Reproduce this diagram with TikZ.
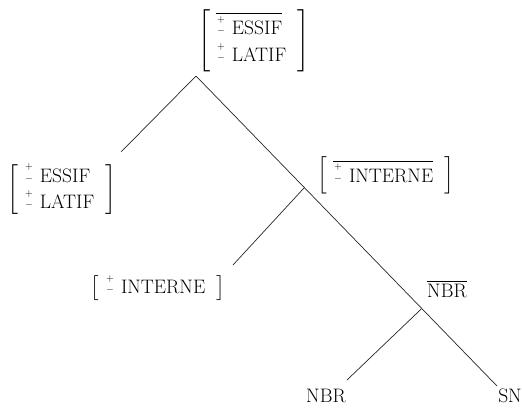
\documentclass[tikz,border=0pt]{standalone}
\usepackage{amsmath}
\usetikzlibrary{calc}
\newcommand{\pmst}{\raisebox{0.7ex}{$\genfrac{}{}{0pt}{2}{+}{-}$}}
\newcommand{\featbox}[1]{$\left[\;\begin{tabular}{@{}l@{}}#1\end{tabular}\;\;\right]$}
\renewcommand{\arraystretch}{0.95}
\tikzset{
  line/.style={draw=black!85, line width=0.7pt},
  feat/.style={inner sep=0pt, font=\fontsize{19.5}{28}\selectfont},
  leaf/.style={inner sep=0pt, font=\fontsize{19.5}{28}\selectfont}
}

\begin{document}
\begin{tikzpicture}[x=1pt, y=-1pt]
  \useasboundingbox (0,0) rectangle (522,410);
  % feature bundles
  \node [feat] (top) at (254,41) {\featbox{$\overline{\mbox{\pmst\ ESSIF}}$\\ \pmst\ LATIF}};
  \node [feat] (left) at (62,190) {\featbox{\pmst\ ESSIF\\ \pmst\ LATIF}};
  \node [feat] (intbar) at (386,175) {\featbox{$\overline{\mbox{\pmst\ INTERNE}}$}};
  \node [feat] (int) at (158,288) {\featbox{\pmst\ INTERNE}};
  % categories
  \node [leaf] (nbrbar) at (447,289) {$\overline{\mbox{NBR}}$};
  \node [leaf] (nbr) at (326,396) {NBR};
  \node [leaf] (sn) at (510,396) {SN};

  % branch points
  \coordinate (apex) at (196,76);
  \coordinate (snend) at (497,386);
  \coordinate (b1) at ($(apex)!0.36!(snend)$);
  \coordinate (b2) at ($(apex)!0.75!(snend)$);
  \coordinate (leftend) at (121,152);
  \coordinate (intend) at (233,265);
  \coordinate (nbrend) at (347,380);

  \draw [line] (apex) -- (snend);
  \draw [line] (apex) -- (leftend);
  \draw [line] (b1) -- (intend);
  \draw [line] (b2) -- (nbrend);
\end{tikzpicture}
\end{document}
